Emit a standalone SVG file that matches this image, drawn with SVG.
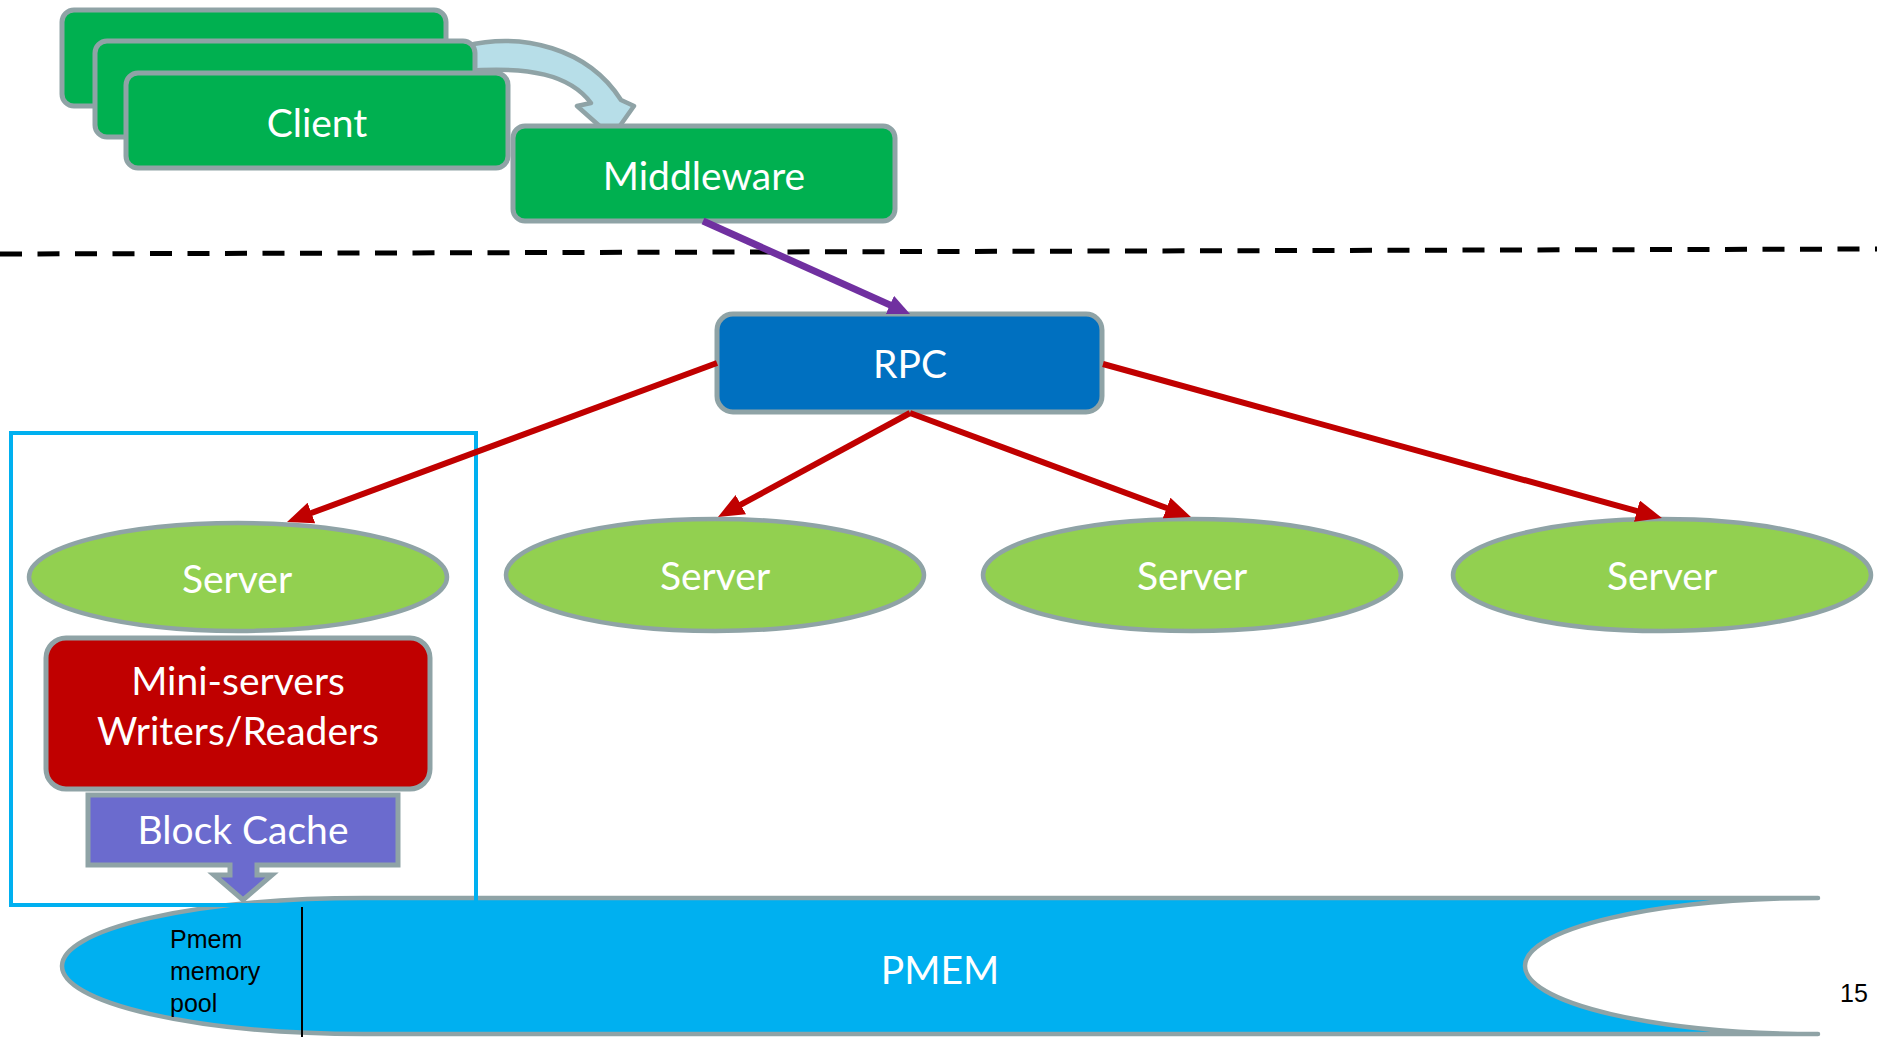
<svg xmlns="http://www.w3.org/2000/svg" width="1877" height="1037" viewBox="0 0 1877 1037">
<defs>
<style>
.box{stroke:#8FA3A6;stroke-width:5}
.green{fill:#00B050}
.lbl{font-family:Lato,"Open Sans","Liberation Sans",sans-serif;font-size:39px;fill:#FFFFFF;text-anchor:middle}
.srv{fill:#92D050;stroke:#8FA3A6;stroke-width:4.5}
.red{stroke:#C00000;stroke-width:6;fill:none;marker-end:url(#arRed)}
.small{font-family:"Liberation Sans",Arial,sans-serif;font-size:25px;fill:#000000}
</style>
<marker id="arRed" markerUnits="userSpaceOnUse" markerWidth="28" markerHeight="24" refX="8" refY="11" orient="auto">
<path d="M0,0 L26,11 L0,22 Z" fill="#C00000"/>
</marker>
<marker id="arPur" markerUnits="userSpaceOnUse" markerWidth="24" markerHeight="22" refX="6" refY="10" orient="auto">
<path d="M0,0 L22,10 L0,20 Z" fill="#7030A0"/>
</marker>
</defs>
<rect width="1877" height="1037" fill="#FFFFFF"/>

<!-- separator -->
<line x1="0" y1="254" x2="1877" y2="249" stroke="#000000" stroke-width="5" stroke-dasharray="22 15.5"/>

<!-- PMEM -->
<g id="pmem">
<path d="M364 898 H1818 V1034 H364 A302 68 0 0 1 364 898 Z" fill="#00B0F0"/>
<path d="M1818 898 A293 68 0 0 0 1818 1034 Z" fill="#FFFFFF"/>
<path d="M1818 898 H364 A302 68 0 0 0 364 1034 H1818 M1818 898 A293 68 0 0 0 1818 1034" fill="none" stroke="#8FA3A6" stroke-width="4.5" stroke-linecap="round"/>
<line x1="302" y1="903" x2="302" y2="1037" stroke="#000000" stroke-width="2"/>
<text class="small"><tspan x="170" y="948">Pmem</tspan><tspan x="170" y="980">memory</tspan><tspan x="170" y="1012">pool</tspan></text>
<text class="lbl" x="940" y="984">PMEM</text>
</g>

<!-- client stack -->
<g id="clients">
<rect class="box green" x="62" y="10" width="384" height="96" rx="12"/>
<path d="M465 46 C522 32 588 48 621 100 L634 106 L612 137 L577 106 L591 103 C570 75 530 66 465 71 Z" fill="#B7DEE8" stroke="#8FA3A6" stroke-width="4.5" stroke-linejoin="round"/>
<rect class="box green" x="95" y="41" width="380" height="96" rx="12"/>
<rect class="box green" x="126" y="73" width="382" height="95" rx="12"/>
<text class="lbl" x="317" y="137">Client</text>
</g>

<g id="middleware">
<rect class="box green" x="513" y="126" width="382" height="95" rx="12"/>
<text class="lbl" x="704" y="190">Middleware</text>
</g>

<g id="rpc">
<rect class="box" fill="#0070C0" x="717" y="314" width="385" height="98" rx="16"/>
<text class="lbl" x="910" y="378">RPC</text>
</g>

<g id="server1">
<ellipse class="srv" cx="238" cy="577" rx="209" ry="54"/>
<text class="lbl" x="237" y="593">Server</text>
</g>
<g id="server2">
<ellipse class="srv" cx="715" cy="575" rx="209" ry="56"/>
<text class="lbl" x="715" y="590">Server</text>
</g>
<g id="server3">
<ellipse class="srv" cx="1192" cy="575" rx="209" ry="56"/>
<text class="lbl" x="1192" y="590">Server</text>
</g>
<g id="server4">
<ellipse class="srv" cx="1662" cy="575" rx="209" ry="56"/>
<text class="lbl" x="1662" y="590">Server</text>
</g>

<g id="miniservers">
<rect class="box" fill="#C00000" x="46" y="638" width="384" height="151" rx="20"/>
<text class="lbl" x="238" y="695">Mini-servers</text>
<text class="lbl" x="238" y="745">Writers/Readers</text>
</g>

<g id="blockcache">
<path class="box" fill="#6B6BCE" d="M88 795 H398 V865 H257 V875 H272 L243 900 L214 875 H230 V865 H88 Z" stroke-linejoin="miter"/>
<text class="lbl" x="243" y="844">Block Cache</text>
</g>

<g id="serverGroup">
<rect x="11" y="433" width="465" height="472" fill="none" stroke="#00B0F0" stroke-width="4"/>
</g>

<g id="connectors">
<line x1="703" y1="221" x2="895.4" y2="307.4" stroke="#7030A0" stroke-width="7" marker-end="url(#arPur)"/>
<line class="red" x1="717" y1="363" x2="303.9" y2="515.8"/>
<line class="red" x1="910" y1="413" x2="733.8" y2="508.4"/>
<line class="red" x1="910" y1="413" x2="1174.1" y2="510.8"/>
<line class="red" x1="1103" y1="364" x2="1644.6" y2="513.2"/>
</g>

<text class="small" x="1840" y="1002" font-size="24">15</text>
</svg>
